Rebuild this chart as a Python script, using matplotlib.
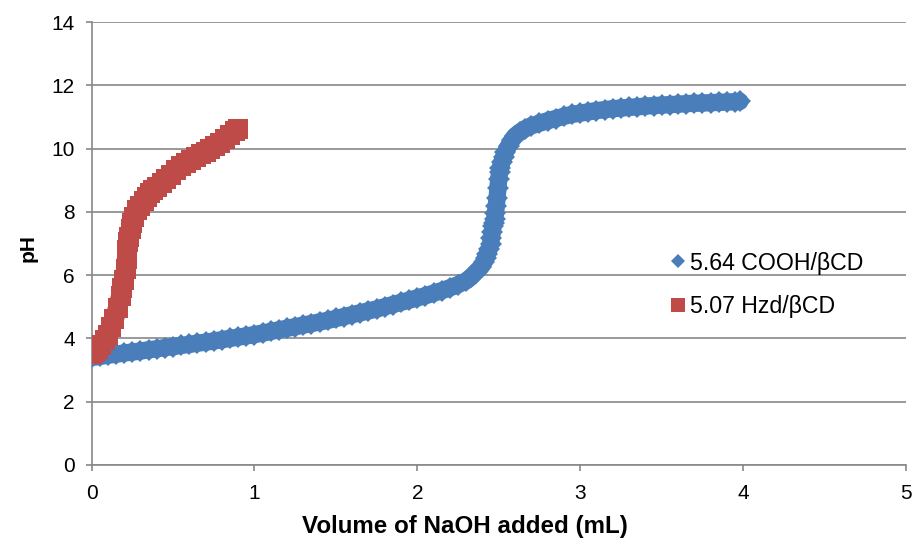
import matplotlib
matplotlib.use("Agg")
import matplotlib.pyplot as plt

plt.rcParams['font.family'] = ['Liberation Sans', 'DejaVu Sans']

# 5.64 COOH/βCD  (blue diamonds)
cooh_vol = [0.00, 0.05, 0.10, 0.15, 0.20, 0.25, 0.30, 0.35, 0.40, 0.45,
            0.50, 0.55, 0.60, 0.65, 0.70, 0.75, 0.80, 0.85, 0.90, 0.95,
            1.00, 1.05, 1.10, 1.15, 1.20, 1.25, 1.30, 1.35, 1.40, 1.45,
            1.50, 1.55, 1.60, 1.65, 1.70, 1.75, 1.80, 1.85, 1.90, 1.95,
            2.00, 2.05, 2.10, 2.15, 2.20, 2.25, 2.30, 2.33, 2.36, 2.39,
            2.41, 2.42, 2.43, 2.44, 2.45, 2.455, 2.46, 2.465, 2.47, 2.475,
            2.48, 2.485, 2.49, 2.495, 2.50, 2.505, 2.51, 2.52, 2.53, 2.54,
            2.56, 2.58, 2.60, 2.63, 2.66, 2.70, 2.75, 2.80, 2.85, 2.90,
            2.95, 3.00, 3.05, 3.10, 3.15, 3.20, 3.25, 3.30, 3.35, 3.40,
            3.45, 3.50, 3.55, 3.60, 3.65, 3.70, 3.75, 3.80, 3.85, 3.90,
            3.95, 3.98]
cooh_ph = [3.40, 3.43, 3.47, 3.50, 3.54, 3.57, 3.60, 3.64, 3.67, 3.71,
           3.74, 3.78, 3.81, 3.85, 3.88, 3.92, 3.96, 4.00, 4.04, 4.08,
           4.12, 4.17, 4.22, 4.27, 4.32, 4.37, 4.42, 4.47, 4.52, 4.57,
           4.63, 4.69, 4.75, 4.81, 4.87, 4.93, 5.00, 5.07, 5.14, 5.21,
           5.28, 5.35, 5.43, 5.51, 5.60, 5.70, 5.82, 5.94, 6.10, 6.25,
           6.42, 6.55, 6.68, 6.82, 7.00, 7.18, 7.36, 7.55, 7.65, 7.78,
           7.95, 8.20, 8.45, 8.75, 9.05, 9.25, 9.40, 9.58, 9.74, 9.88,
           10.08, 10.26, 10.40, 10.52, 10.62, 10.72, 10.80, 10.88, 10.95, 11.02,
           11.08, 11.12, 11.16, 11.20, 11.23, 11.26, 11.28, 11.30, 11.32, 11.34,
           11.36, 11.37, 11.39, 11.40, 11.42, 11.43, 11.44, 11.45, 11.46, 11.47,
           11.48, 11.49]

# 5.07 Hzd/βCD  (red squares)
hzd_vol = [0.00, 0.02, 0.04, 0.06, 0.08, 0.10, 0.12, 0.14, 0.16, 0.18,
           0.19, 0.20, 0.21, 0.215, 0.22, 0.225, 0.23, 0.24, 0.25, 0.26,
           0.28, 0.30, 0.32, 0.34, 0.36, 0.38, 0.40, 0.43, 0.46, 0.49,
           0.52, 0.55, 0.58, 0.61, 0.64, 0.67, 0.70, 0.73, 0.76, 0.79,
           0.82, 0.85, 0.88, 0.90]
hzd_ph = [3.50, 3.58, 3.68, 3.80, 3.95, 4.12, 4.35, 4.62, 4.95, 5.35,
          5.60, 5.85, 6.20, 6.50, 6.80, 7.05, 7.20, 7.45, 7.65, 7.85,
          8.05, 8.20, 8.35, 8.48, 8.60, 8.70, 8.80, 8.92, 9.05, 9.18,
          9.32, 9.44, 9.55, 9.64, 9.73, 9.82, 9.90, 9.99, 10.08, 10.18,
          10.30, 10.42, 10.55, 10.62]

x_ticks = [0, 1, 2, 3, 4, 5]
y_ticks = [0, 2, 4, 6, 8, 10, 12, 14]

blue = '#4A7EBB'
red = '#BE4B48'
grid_gray = '#888888'

fig = plt.figure(figsize=(9.13, 5.44), dpi=100)
ax = fig.add_axes([91.5 / 913, 1 - 465 / 544, (906 - 91.5) / 913, (465 - 22) / 544])

# dense overlapping markers in the original read as a solid band,
# so a thick line under the markers fills the gaps between them
ax.plot(cooh_vol, cooh_ph, color=blue, linewidth=12.5, solid_capstyle='round',
        solid_joinstyle='round', label='_nolegend_', zorder=3)
ax.plot(cooh_vol, cooh_ph, linestyle='none', marker='D', markersize=11.5,
        color=blue, markeredgewidth=0, label='5.64 COOH/βCD', zorder=3)
ax.plot(hzd_vol, hzd_ph, color=red, linewidth=14, solid_capstyle='butt',
        solid_joinstyle='round', label='_nolegend_', zorder=4)
ax.plot(hzd_vol, hzd_ph, linestyle='none', marker='s', markersize=14.5,
        color=red, markeredgewidth=0, label='5.07 Hzd/βCD', zorder=4)

ax.set_xlim(0, 5)
ax.set_ylim(0, 14)
ax.set_xticks(x_ticks)
ax.set_yticks(y_ticks)
ax.yaxis.grid(True, color=grid_gray, linewidth=1.2)
ax.set_axisbelow(True)

for side in ['top', 'right']:
    ax.spines[side].set_visible(False)
for side in ['left', 'bottom']:
    ax.spines[side].set_color(grid_gray)
    ax.spines[side].set_linewidth(1.2)

ax.tick_params(axis='both', colors=grid_gray, labelcolor='black',
               labelsize=15, length=4, width=1.2, direction='out')
ax.tick_params(axis='y', pad=8)
ax.tick_params(axis='x', pad=10)

ax.set_xlabel('Volume of NaOH added (mL)', fontsize=17.4, fontweight='bold',
              labelpad=8.5, x=0.4586)
ax.set_ylabel('pH', fontsize=15, fontweight='bold', labelpad=10, y=0.49)

ax.legend(loc='upper left', bbox_to_anchor=(669 / 913, 1 - 251.5 / 544),
          bbox_transform=fig.transFigure, frameon=False, fontsize=16.7,
          markerscale=0.65, handlelength=0.8, handletextpad=0.12,
          labelspacing=0.88, borderpad=0, borderaxespad=0)

fig.savefig('out.png', dpi=100)
